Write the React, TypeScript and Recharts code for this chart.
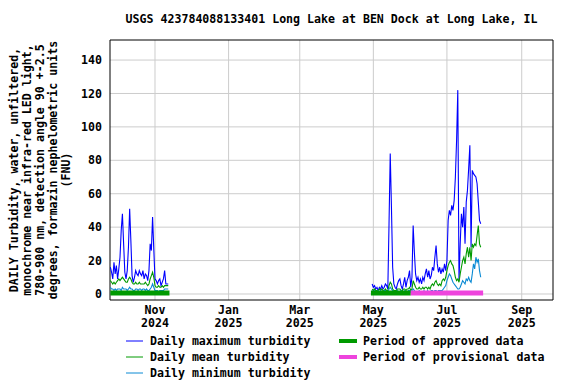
import React from 'react';
import { LineChart, Line, XAxis, YAxis, CartesianGrid, ReferenceArea } from 'recharts';

const FONT = '"DejaVu Sans Mono", "Liberation Mono", monospace';
const FS = 11.6;

// ---- data ----
const fallStart = '2024-09-25';
const fallMax = [16,13,9,19,12,17,9,15,22,38, 48,30,13,9,14,28,51,32,11,7, 10,14,12,11,14,12,11,14,9,12, 11,8,14,30,26,46,27,9,8,6, 8,9,5,7,9,14,6,6,6];
const fallMean = [8,7,6,7,6,7,8,9,8,9, 10,9,8,7,7,9,10,9,7,6, 6,7,6,6,7,6,6,6,6,7, 6,5,6,9,11,13,10,5,4,4, 5,4,4,5,4,5,5,5,5];
const fallMin = [4,3,3,2,3,2,3,3,3,2, 4,3,3,3,2,3,4,3,3,2, 2,3,3,2,3,3,2,3,3,2, 3,2,2,3,4,6,4,2,2,2, 1,2,2,2,2,3,3,3,3];

const gapDate = '2025-01-15';

const springStart = '2025-04-30';
const springMax = [6,4,5,3,4,2,4,3,5,3, 4,6,5,3,42,84,52,16,6,4, 3,6,8,9,5,3,6,10,4,8, 10,14,4,10,41,25,12,8,10,7, 9,6,10,8,12,15,10,14,9,11, 16,14,22,29,18,13,16,12,15,13, 18,14,20,44,50,47,53,50,56,70, 92,122,8,30,48,40,52,30,55,62, 75,89,28,74,72,71,70,66,55,44, 42];
const springMean = [3,2,3,2,2,2,3,2,3,2, 2,3,2,2,5,7,6,3,2,2, 2,3,3,3,2,2,3,3,2,3, 3,4,2,3,8,6,4,3,3,4, 3,3,4,3,4,4,3,4,3,5, 6,5,7,8,6,5,6,5,8,9, 8,10,14,17,19,20,18,17,14,10, 8,9,7,12,16,20,22,18,24,28, 22,28,20,30,28,30,29,35,41,30, 28];
const springMin = [2,1,2,1,1,2,1,2,1,1, 2,2,1,1,3,4,3,2,1,1, 1,2,1,1,2,1,1,2,1,1, 2,2,1,2,3,2,1,1,1,2, 1,1,1,2,1,1,2,1,1,2, 2,1,2,2,1,2,2,2,
  2,3,4,5,8,10,12,11,9,7, 6,5,4,3,3,4,6,8,7,6, 9,8,10,8,7,12,18,15,22,19, 21,14,10];

const approvedPeriods = [['2024-09-25', '2024-11-13'], ['2025-04-29', '2025-06-01']];
const provisionalPeriods = [['2025-06-01', '2025-07-31']];
const periodBarLevel = 0.6;

const xTickDates = ['2024-11-01', '2025-01-01', '2025-03-01', '2025-05-01', '2025-07-01', '2025-09-01'];
const xTickMonths = ['Nov', 'Jan', 'Mar', 'May', 'Jul', 'Sep'];
const xTickYears = ['2024', '2025', '2025', '2025', '2025', '2025'];
const yTicks = [0, 20, 40, 60, 80, 100, 120, 140];

const title = 'USGS 423784088133401 Long Lake at BEN Dock at Long Lake, IL';
const yLabelLines = [
  'DAILY Turbidity, water, unfiltered,',
  'monochrome near infra-red LED light,',
  '780-900 nm, detection angle 90 +-2.5',
  'degrees, formazin nephelometric units',
  '(FNU)',
];

const COLORS = {
  max: '#0000ff',
  mean: '#009a00',
  min: '#0a8ad4',
  approved: '#009a00',
  provisional: '#ee44dd',
};

// ---- helpers ----
const DAY = 86400000;
const toMs = (s: string) => {
  const [y, m, d] = s.split('-').map(Number);
  return Date.UTC(y, m - 1, d);
};

const buildSegment = (start: string, mx: number[], mn: number[], lo: number[]) => {
  const t0 = toMs(start);
  return mx.map((v, i) => ({ t: t0 + i * DAY, max: v, mean: mn[i], min: lo[i] }));
};

const data = [
  ...buildSegment(fallStart, fallMax, fallMean, fallMin),
  { t: toMs(gapDate), max: null, mean: null, min: null },
  ...buildSegment(springStart, springMax, springMean, springMin),
];

const buildPeriods = (periods: string[][]) => {
  const out: { t: number; v: number | null }[] = [];
  periods.forEach(([s, e]) => {
    out.push({ t: toMs(s), v: periodBarLevel });
    out.push({ t: toMs(e), v: periodBarLevel });
    out.push({ t: toMs(e) + 1, v: null });
  });
  return out;
};
const approvedData = buildPeriods(approvedPeriods);
const provisionalData = buildPeriods(provisionalPeriods);

const X_DOMAIN: [number, number] = [Date.UTC(2024, 8, 24, 17), Date.UTC(2025, 8, 26, 22)];
const Y_DOMAIN: [number, number] = [-3.6, 152];
const xTicks = xTickDates.map(toMs);

const XTick = (props: any) => {
  const { x, y, payload } = props;
  const idx = xTicks.indexOf(payload.value);
  if (idx < 0) return null;
  return (
    <text x={x} y={y} textAnchor="middle" fontFamily={FONT} fontSize={FS} fontWeight="bold" fill="#000">
      <tspan x={x} dy={6}>{xTickMonths[idx]}</tspan>
      <tspan x={x} dy={13}>{xTickYears[idx]}</tspan>
    </text>
  );
};

const legendLeft = [
  { label: 'Daily maximum turbidity', color: COLORS.max },
  { label: 'Daily mean turbidity', color: COLORS.mean },
  { label: 'Daily minimum turbidity', color: COLORS.min },
];
const legendRight = [
  { label: 'Period of approved data', color: COLORS.approved },
  { label: 'Period of provisional data', color: COLORS.provisional },
];

export default function App() {
  return (
    <div style={{ position: 'absolute', left: 0, top: 0, width: 576, height: 384, background: '#fff' }}>
      <LineChart
        width={576}
        height={384}
        data={data}
        margin={{ top: 40, right: 23, bottom: 0, left: 0 }}
      >
        <CartesianGrid stroke="#cccccc" strokeWidth={1} horizontalValues={yTicks} verticalValues={xTicks} />
        <XAxis
          dataKey="t"
          type="number"
          domain={X_DOMAIN}
          allowDataOverflow
          ticks={xTicks}
          tick={<XTick />}
          tickLine={false}
          axisLine={false}
          height={84}
          interval={0}
        />
        <YAxis
          type="number"
          domain={Y_DOMAIN}
          allowDataOverflow
          ticks={yTicks}
          width={110}
          tickLine={false}
          axisLine={false}
          interval={0}
          tick={{ fill: '#000', fontSize: FS, fontWeight: 'bold', fontFamily: FONT }}
        />
        <Line dataKey="max" stroke={COLORS.max} strokeWidth={1.1} dot={false} isAnimationActive={false} connectNulls={false} />
        <Line dataKey="mean" stroke={COLORS.mean} strokeWidth={1.1} dot={false} isAnimationActive={false} connectNulls={false} />
        <Line dataKey="min" stroke={COLORS.min} strokeWidth={1.1} dot={false} isAnimationActive={false} connectNulls={false} />
        <Line data={approvedData} dataKey="v" stroke={COLORS.approved} strokeWidth={5} strokeLinecap="butt" dot={false} isAnimationActive={false} connectNulls={false} />
        <Line data={provisionalData} dataKey="v" stroke={COLORS.provisional} strokeWidth={5} strokeLinecap="butt" dot={false} isAnimationActive={false} connectNulls={false} />
        <ReferenceArea
          x1={X_DOMAIN[0]}
          x2={X_DOMAIN[1]}
          y1={Y_DOMAIN[0]}
          y2={Y_DOMAIN[1]}
          fill="none"
          fillOpacity={0}
          stroke="#000"
          strokeWidth={1}
          ifOverflow="visible"
        />
      </LineChart>
      <svg width={576} height={384} style={{ position: 'absolute', left: 0, top: 0, pointerEvents: 'none' }}>
        <text x={331.5} y={23} textAnchor="middle" fontFamily={FONT} fontSize={FS} fontWeight="bold" fill="#000">
          {title}
        </text>
        {yLabelLines.map((line, i) => {
          const cx = 14 + i * 13;
          const cy = 170;
          return (
            <text
              key={i}
              x={cx}
              y={cy}
              transform={`rotate(-90 ${cx} ${cy})`}
              textAnchor="middle"
              dominantBaseline="central"
              fontFamily={FONT}
              fontSize={FS}
              fontWeight="bold"
              fill="#000"
            >
              {line}
            </text>
          );
        })}
        {legendLeft.map((it, i) => {
          const y = 341 + i * 16;
          return (
            <g key={it.label}>
              <line x1={126} x2={143} y1={y} y2={y} stroke={it.color} strokeWidth={1} />
              <text x={150} y={y + 4} fontFamily={FONT} fontSize={FS} fontWeight="bold" fill="#000">{it.label}</text>
            </g>
          );
        })}
        {legendRight.map((it, i) => {
          const y = 341 + i * 16;
          return (
            <g key={it.label}>
              <line x1={339} x2={357} y1={y} y2={y} stroke={it.color} strokeWidth={4} />
              <text x={363} y={y + 4} fontFamily={FONT} fontSize={FS} fontWeight="bold" fill="#000">{it.label}</text>
            </g>
          );
        })}
      </svg>
    </div>
  );
}
